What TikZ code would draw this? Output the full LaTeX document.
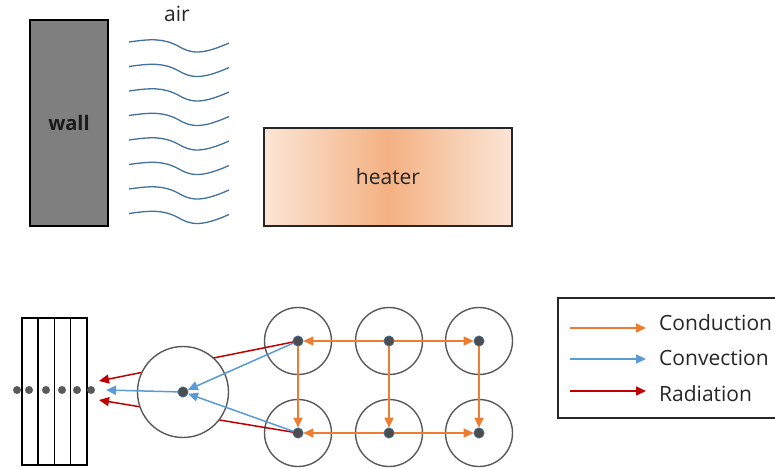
\documentclass[tikz,border=0pt]{standalone}
\usepackage{fontspec}
\setmainfont{Open Sans}
\usetikzlibrary{arrows.meta}
\definecolor{cond}{HTML}{ED7D31}
\definecolor{conv}{HTML}{5B9BD5}
\definecolor{rad}{HTML}{C00000}
\definecolor{wave}{HTML}{41719C}
\definecolor{wallgray}{HTML}{7F7F7F}
\definecolor{peachL}{HTML}{FBE5D6}
\definecolor{peachD}{HTML}{F4B183}
\definecolor{ringgray}{HTML}{595959}
\definecolor{dotgray}{HTML}{4D4D4D}
\begin{document}
\begin{tikzpicture}[x=1pt,y=-1pt,
  lbl/.style={font=\fontsize{21}{24}\selectfont, text=black!85},
  ring/.style={draw=ringgray, line width=1.4pt, circle, inner sep=0pt},
  dotn/.style={circle, fill=dotgray, draw=wave, line width=0.6pt, minimum size=10pt, inner sep=0pt},
  wdot/.style={circle, fill=ringgray, minimum size=8pt, inner sep=0pt},
  tip/.style={-{Triangle[length=10pt,width=9pt]}},
  condarr/.style={tip, draw=cond, fill=cond, line width=1.5pt},
  convarr/.style={tip, draw=conv, fill=conv, line width=1.5pt},
  radarr/.style={tip, draw=rad, fill=rad, line width=1.5pt},
  wavestyle/.style={draw=wave, line width=1.3pt}]
\useasboundingbox (0,0) rectangle (775,468);

% wall
\node[draw=black, line width=1.5pt, fill=wallgray, minimum width=78pt, minimum height=206pt, inner sep=0pt,
  font=\fontsize{20}{24}\selectfont\bfseries, text=black!90] (wall) at (69,123) {wall};

% air
\node[lbl] (air) at (177,14) {air};
\foreach \y in {42,66.5,91,115.5,140,164.5,189,213.5}{
  \draw[wavestyle] (129,\y) .. controls (150,\y-3) and (163,\y-4) .. (178,\y+4)
    .. controls (190,\y+11) and (200,\y+14) .. (229,\y+1);
}

% heater
\node[draw=black!85, line width=1.5pt, minimum width=248pt, minimum height=98pt, inner sep=0pt,
  left color=peachL, right color=peachL, middle color=peachD, lbl] (heater) at (388,177) {heater};

% striped wall
\draw[line width=1.5pt] (22,318) rectangle (87,465);
\foreach \x in {38,54.5,70.5}{ \draw[line width=1.5pt] (\x,318) -- (\x,465); }

% coordinates
\coordinate (r1) at (99,381);
\coordinate (r2) at (99,400);
\coordinate (b0) at (106,390);

% small rings
\foreach \n/\x/\y in {a/298/341, b/389/341, c/479/341, d/298/433, e/389/433, f/479/433}{
  \node[ring, minimum size=67pt] (ring\n) at (\x,\y) {};
}

% dots (placed first for naming; redrawn later on top)
\node[dotn] (da) at (298,341) {};
\node[dotn] (db) at (389,341) {};
\node[dotn] (dc) at (479,341) {};
\node[dotn] (dd) at (298,433) {};
\node[dotn] (de) at (389,433) {};
\node[dotn] (df) at (479,433) {};

% radiation lines behind big circle
\draw[radarr] (da.center) -- (r1);
\draw[radarr] (dd.center) -- (r2);

% big circle
\node[ring, fill=white, minimum size=91pt] (big) at (183,392) {};
\node[dotn] (d0) at (183,392) {};

% convection
\draw[convarr] (da.center) -- (d0);
\draw[convarr] (dd.center) -- (d0);
\draw[convarr] (d0.center) -- (b0);

% conduction
\draw[condarr] (db.center) -- (da);
\draw[condarr] (db.center) -- (dc);
\draw[condarr] (db.center) -- (de);
\draw[condarr] (da.center) -- (dd);
\draw[condarr] (dc.center) -- (df);
\draw[condarr] (de.center) -- (dd);
\draw[condarr] (de.center) -- (df);

% redraw dots on top
\foreach \n/\x/\y in {a/298/341, b/389/341, c/479/341, d/298/433, e/389/433, f/479/433}{
  \node[dotn] at (\x,\y) {};
}
\node[dotn] at (183,392) {};

% wall dots
\foreach \x [count=\i] in {17,29,46,62,77,91}{
  \node[wdot] (w\i) at (\x,390) {};
}

% legend
\draw[line width=1.5pt, draw=black!85] (790,298) -- (558,298) -- (558,418) -- (790,418);
\coordinate (l1a) at (570,328); \coordinate (l1b) at (646,328);
\coordinate (l2a) at (570,359); \coordinate (l2b) at (646,359);
\coordinate (l3a) at (570,391); \coordinate (l3b) at (646,391);
\draw[condarr] (l1a) -- (l1b);
\draw[convarr] (l2a) -- (l2b);
\draw[radarr] (l3a) -- (l3b);
\node[lbl, anchor=west, inner sep=0pt] (t1) at (659,323) {Conduction};
\node[lbl, anchor=west, inner sep=0pt] (t2) at (659,358) {Convection};
\node[lbl, anchor=west, inner sep=0pt] (t3) at (659,394) {Radiation};
\end{tikzpicture}
\end{document}
